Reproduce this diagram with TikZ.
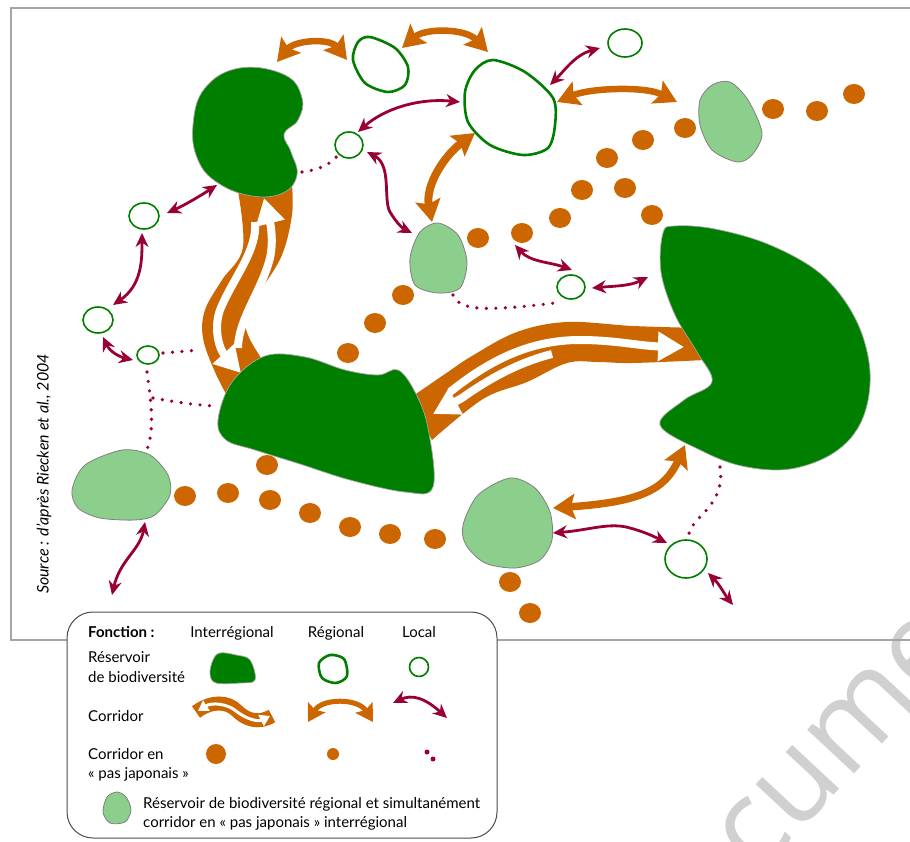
\documentclass[tikz,border=0pt]{standalone}
\usepackage{fontspec}
\setmainfont{Lato}
\newfontfamily\wmfont{Open Sans}
\usetikzlibrary{arrows.meta}
\definecolor{dkgreen}{RGB}{0,126,0}
\definecolor{ltgreen}{RGB}{140,206,140}
\definecolor{orng}{RGB}{204,102,0}
\definecolor{crim}{RGB}{153,0,51}
\definecolor{framegray}{RGB}{165,165,165}
\definecolor{wmgray}{RGB}{208,208,208}
\tikzset{
  interres/.style={fill=dkgreen, draw=gray!70, line width=0.7pt},
  regres/.style={draw=dkgreen, line width=2.6pt, fill=white},
  locres/.style={draw=dkgreen, line width=1.6pt, fill=white},
  stepres/.style={fill=ltgreen, draw=gray, line width=0.8pt},
  odot/.style={fill=orng},
  locdots/.style={draw=crim, line width=3.6pt, line cap=round, dash pattern=on 0pt off 9.5pt},
  locarrow/.style={draw=crim, line width=2.8pt, {Stealth[length=14pt,width=13pt]}-{Stealth[length=14pt,width=13pt]}},
  regarrow/.style={draw=orng, line width=6.5pt, {Stealth[length=22pt,width=25pt,inset=4pt]}-{Stealth[length=22pt,width=25pt,inset=4pt]}},
  band/.style={fill=orng},
  whitearrow/.style={draw=white, line width=8pt, -{Triangle[length=26pt,width=28pt]}},
  legtext/.style={font=\fontsize{15}{18}\selectfont, inner sep=0pt, anchor=base west},
  framestyle/.style={draw=framegray, line width=1.5pt},
}
\begin{document}
\begin{tikzpicture}[x=1pt,y=-1pt]
\useasboundingbox (0,0) rectangle (910,842);
\begin{scope}
\clip (0,0) rectangle (910,842);
\node[text=wmgray, font=\wmfont\fontsize{120}{120}\selectfont, rotate=47] (wm) at (840,742) {cume};
\end{scope}
% frame
\coordinate (f1) at (11,8); \coordinate (f2) at (910,8); \coordinate (f3) at (11,640);
\coordinate (f4) at (67,640); \coordinate (f5) at (497,640); \coordinate (f6) at (910,640);
\draw[framestyle] (f2) -- (f1) -- (f3) -- (f4);
\draw[framestyle] (f5) -- (f6);

% interregional corridor bands
\fill[band] plot[smooth, tension=0.6] coordinates {(237,185) (243,247) (222,280) (205,310) (203,338) (215,372) (232,405)}
  -- plot[smooth, tension=0.6] coordinates {(275,385) (262,360) (248,335) (245,312) (262,288) (282,255) (292,215) (292,185)} -- cycle;
\fill[band] plot[smooth, tension=0.6] coordinates {(410,398) (445,374) (472,356) (517,332) (567,322) (633,326) (700,328)}
  -- plot[smooth, tension=0.6] coordinates {(705,360) (633,363) (598,362) (567,363) (527,382) (483,399) (432,440)} -- cycle;
\draw[whitearrow] (238,348) .. controls (238,320) and (262,290) .. (270,258) .. controls (274,240) and (270,222) .. (264,198);
\draw[whitearrow] (255,222) .. controls (258,250) and (232,280) .. (220,310) .. controls (213,330) and (220,350) .. (241,373);
\draw[whitearrow] (450,392) .. controls (490,360) and (530,340) .. (580,340) .. controls (615,340) and (640,346) .. (684,347);
\draw[whitearrow] (552,354) .. controls (520,362) and (490,378) .. (462,398) -- (433,414);

% interregional reservoirs
\fill[interres] plot[smooth cycle, tension=0.7] coordinates {(240,68) (285,75) (302,98) (298,120) (284,134) (291,152) (297,175) (283,193) (252,196) (218,183) (198,160) (193,125) (205,88)};
\fill[interres] plot[smooth cycle, tension=0.6] coordinates {(218,420) (232,382) (265,356) (305,357) (345,370) (378,375) (398,370) (415,392) (428,428) (433,487) (405,492) (350,480) (300,464) (255,450) (226,440)};
\fill[interres] plot[smooth cycle, tension=0.6] coordinates {(663,233) (675,226) (715,229) (770,245) (822,275) (856,320) (870,372) (862,420) (835,452) (790,469) (742,466) (700,450) (660,425) (684,400) (712,382) (697,352) (675,315) (661,272)};

% stepping-stone regional reservoirs
\filldraw[stepres] plot[smooth cycle] coordinates {(438,223) (458,235) (467,262) (460,288) (438,293) (415,285) (410,258) (420,232)};
\filldraw[stepres] plot[smooth cycle] coordinates {(730,82) (748,100) (762,133) (752,155) (737,162) (712,150) (700,125) (700,100) (712,85)};
\filldraw[stepres] plot[smooth cycle] coordinates {(122,450) (150,455) (168,475) (170,495) (155,515) (135,520) (100,518) (78,508) (72,490) (85,465)};
\filldraw[stepres] plot[smooth cycle] coordinates {(510,478) (535,488) (550,512) (552,540) (540,560) (515,568) (485,563) (466,545) (463,525) (478,495)};

% regional reservoirs
\draw[regres] plot[smooth cycle] coordinates {(370,37) (395,48) (408,67) (405,85) (388,92) (365,83) (353,60) (358,42)};
\draw[regres] plot[smooth cycle] coordinates {(493,60) (525,72) (553,98) (555,125) (548,148) (523,155) (490,145) (468,122) (465,92) (475,70)};

% local reservoirs
\draw[locres] (625,43) ellipse [x radius=17, y radius=14];
\draw[locres] (349,145) ellipse [x radius=14, y radius=13];
\draw[locres] (144,216) ellipse [x radius=15, y radius=13];
\draw[locres] (98,320) ellipse [x radius=15, y radius=13];
\draw[locres] (148,355) ellipse [x radius=11, y radius=9];
\draw[locres] (571,287) ellipse [x radius=14, y radius=12];
\draw[locres] (686,559) ellipse [x radius=21, y radius=19];

% interregional stepping stones (orange dots)
\foreach \p in {(348,353),(375,323),(403,295),(478,238),(522,233),(560,218),(582,190),(607,158),(625,188),(652,215),(643,140),(685,128),(773,109),(817,111),(854,94),
  (185,496),(228,493),(270,500),(267,465),(310,513),(350,527),(390,534),(435,539),(510,582),(530,613)}
  \fill[odot] \p ellipse [x radius=11, y radius=10];

% local stepping stones (dotted lines)
\draw[locdots] (302,172) .. controls (318,170) and (330,165) .. (338,155);
\draw[locdots] (163,353) -- (200,350);
\draw[locdots] (147,372) .. controls (150,395) and (156,430) .. (146,452);
\draw[locdots] (153,398) .. controls (175,402) and (195,405) .. (215,406);
\draw[locdots] (453,295) .. controls (460,310) and (480,312) .. (555,303);
\draw[locdots] (720,467) .. controls (724,490) and (712,505) .. (700,517) .. controls (692,525) and (688,532) .. (688,540);

% local corridors
\draw[locarrow] (167,213) .. controls (185,205) and (200,196) .. (217,185);
\draw[locarrow] (142,233) .. controls (142,260) and (142,285) .. (113,305);
\draw[locarrow] (103,337) .. controls (110,352) and (120,357) .. (133,360);
\draw[locarrow] (358,132) .. controls (385,108) and (420,98) .. (460,102);
\draw[locarrow] (367,152) .. controls (392,165) and (383,200) .. (390,212) .. controls (396,222) and (402,228) .. (412,233);
\draw[locarrow] (550,85) .. controls (565,70) and (575,55) .. (600,48);
\draw[locarrow] (515,245) .. controls (530,262) and (550,262) .. (572,270);
\draw[locarrow] (592,288) .. controls (615,286) and (630,286) .. (648,277);
\draw[locarrow] (553,533) .. controls (590,530) and (610,522) .. (630,528) .. controls (645,532) and (655,537) .. (667,543);
\draw[locarrow] (708,573) .. controls (720,585) and (725,595) .. (733,605);
\draw[locarrow] (145,522) .. controls (140,550) and (120,560) .. (112,595);

% regional corridors
\draw[regarrow] (277,62) .. controls (295,40) and (330,38) .. (347,60);
\draw[regarrow] (402,48) .. controls (425,28) and (465,28) .. (488,52);
\draw[regarrow] (557,102) .. controls (590,88) and (645,86) .. (677,102);
\draw[regarrow, line width=8pt] (475,133) .. controls (445,155) and (425,185) .. (432,222);
\draw[regarrow, line width=7.5pt] (685,445) .. controls (665,490) and (640,502) .. (553,508);

% source
\node[font=\itshape\fontsize{16}{19}\selectfont, rotate=90, inner sep=0pt] (src) at (44,474) {Source : d'après Riecken et al., 2004};

% legend
\draw[fill=white, draw=gray!60!black, line width=1pt, rounded corners=26pt] (67,612) rectangle (497,838);
\node[legtext, font=\bfseries\fontsize{15}{18}\selectfont] (lf) at (88,637) {Fonction :};
\node[legtext, anchor=base] (li) at (232,637) {Interrégional};
\node[legtext, anchor=base] (lr) at (336,637) {Régional};
\node[legtext, anchor=base] (ll) at (419,637) {Local};
\node[legtext] (lres1) at (88,662) {Réservoir};
\node[legtext] (lres2) at (88,682) {de biodiversité};
\node[legtext] (lcor) at (88,721) {Corridor};
\node[legtext] (lpj1) at (88,759) {Corridor en};
\node[legtext] (lpj2) at (88,778) {« pas japonais »};
\node[legtext] (lst1) at (143,808) {Réservoir de biodiversité régional et simultanément};
\node[legtext] (lst2) at (143,827) {corridor en « pas japonais » interrégional};

\fill[interres] plot[smooth cycle, tension=0.6] coordinates {(220,653) (236,655) (250,660) (255,680) (240,683) (216,683) (210,674) (213,660)};
\draw[regres] plot[smooth cycle] coordinates {(330,655) (344,659) (347,676) (336,683) (322,678) (319,663)};
\draw[locres] (419,667) ellipse [x radius=9.5, y radius=9.5];

\draw[orng, line width=14pt] (196,712) .. controls (212,700) and (228,702) .. (236,710) .. controls (246,720) and (258,724) .. (272,716);
\draw[white, line width=3pt, {Triangle[length=10pt,width=12pt]}-{Triangle[length=10pt,width=12pt]}] (198,711) .. controls (212,702) and (228,704) .. (236,711) .. controls (246,719) and (258,722) .. (270,716);
\draw[draw=orng, line width=5pt, {Stealth[length=17pt,width=20pt,inset=3pt]}-{Stealth[length=17pt,width=20pt,inset=3pt]}] (308,722) .. controls (322,698) and (358,698) .. (373,722);
\draw[locarrow] (393,703) .. controls (412,694) and (425,698) .. (447,718);

\fill[odot] (216,754) circle [radius=10];
\fill[odot] (333,754) circle [radius=6];
\fill[crim] (427,752) circle [radius=2.5];
\fill[crim] (433,759) circle [radius=2.5];
\filldraw[stepres] plot[smooth cycle] coordinates {(117,792) (126,797) (131,810) (125,822) (110,823) (103,812) (107,797)};
\end{tikzpicture}
\end{document}
